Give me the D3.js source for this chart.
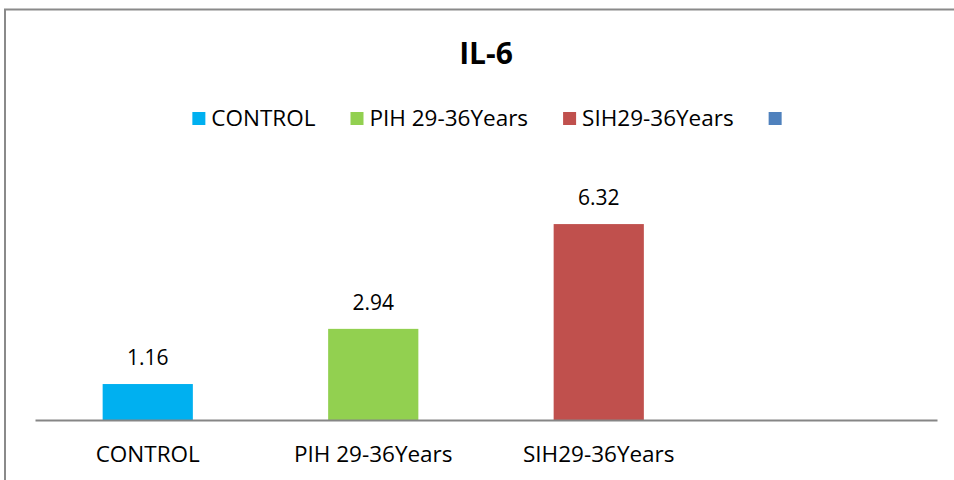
<!DOCTYPE html>
<html>
<head>
<meta charset="utf-8">
<script src="https://cdn.jsdelivr.net/npm/d3@7"></script>
<style>
  body { margin: 0; background: #fff; }
  svg { display: block; font-family: 'Open Sans', sans-serif; }
</style>
</head>
<body>
<svg id="canvas" width="954" height="480"></svg>
<script>
let categories = ['CONTROL', 'PIH 29-36Years', 'SIH29-36Years', '']
let values = [1.16, 2.94, 6.32, null]
let colors = ['#00B0F0', '#92D050', '#C0504D', '#4F81BD']
let title = 'IL-6'

let canvas = d3.select('#canvas')

// chart frame (right and bottom edges fall outside the picture)
canvas.append('rect')
      .attr('x', 5)
      .attr('y', 9.5)
      .attr('width', 1000)
      .attr('height', 1000)
      .attr('fill', 'none')
      .attr('stroke', '#8a8a8a')
      .attr('stroke-width', 2)

let xScale = d3.scaleBand()
               .domain(categories)
               .range([35, 937])
               .paddingInner(0.6)
               .paddingOuter(0.3)

let yScale = d3.scaleLinear()
               .domain([0, 7])
               .range([420, 203])

canvas.append('text')
      .text(title)
      .attr('x', 486)
      .attr('y', 64)
      .attr('text-anchor', 'middle')
      .attr('font-weight', 'bold')
      .attr('font-size', 30)

// bars
let points = categories.map((c, i) => {
  return {name: c, value: values[i], color: colors[i]}
}).filter((d) => d.value !== null)

canvas.selectAll('.bar')
      .data(points)
      .enter()
      .append('rect')
      .attr('class', 'bar')
      .attr('x', (d) => xScale(d.name))
      .attr('y', (d) => yScale(d.value))
      .attr('width', xScale.bandwidth())
      .attr('height', (d) => yScale(0) - yScale(d.value))
      .attr('fill', (d) => d.color)

canvas.selectAll('.val')
      .data(points)
      .enter()
      .append('text')
      .attr('class', 'val')
      .text((d) => d.value.toFixed(2))
      .attr('x', (d) => xScale(d.name) + xScale.bandwidth() / 2)
      .attr('y', (d) => yScale(d.value) - 19)
      .attr('text-anchor', 'middle')
      .attr('font-size', 21)
      .attr('fill', '#000')

// x axis
let xAxis = d3.axisBottom(xScale).tickSize(0).tickPadding(26)
let axisG = canvas.append('g')
                  .attr('transform', 'translate(0, 420)')
                  .call(xAxis)
axisG.select('.domain')
     .attr('stroke', '#868686')
     .attr('stroke-width', 2)
axisG.selectAll('text')
     .attr('font-family', "'Open Sans', sans-serif")
     .attr('font-size', 22.5)
     .attr('fill', '#000')

// legend
let legend = canvas.append('g')
let items = legend.selectAll('g')
                  .data(categories)
                  .enter()
                  .append('g')
items.append('rect')
     .attr('width', 13)
     .attr('height', 13)
     .attr('y', 112)
     .attr('fill', (d, i) => colors[i])
items.append('text')
     .text((d) => d)
     .attr('x', 19)
     .attr('y', 126)
     .attr('font-size', 22.5)
let gap = 35
let cursor = 0
let offsets = []
items.each(function (d) {
  offsets.push(cursor)
  let w = d ? this.querySelector('text').getComputedTextLength() + 19 : 13
  cursor += w + gap
})
let total = cursor - gap
let start = 487 - total / 2
items.attr('transform', (d, i) => 'translate(' + (start + offsets[i]) + ', 0)')
</script>
</body>
</html>
